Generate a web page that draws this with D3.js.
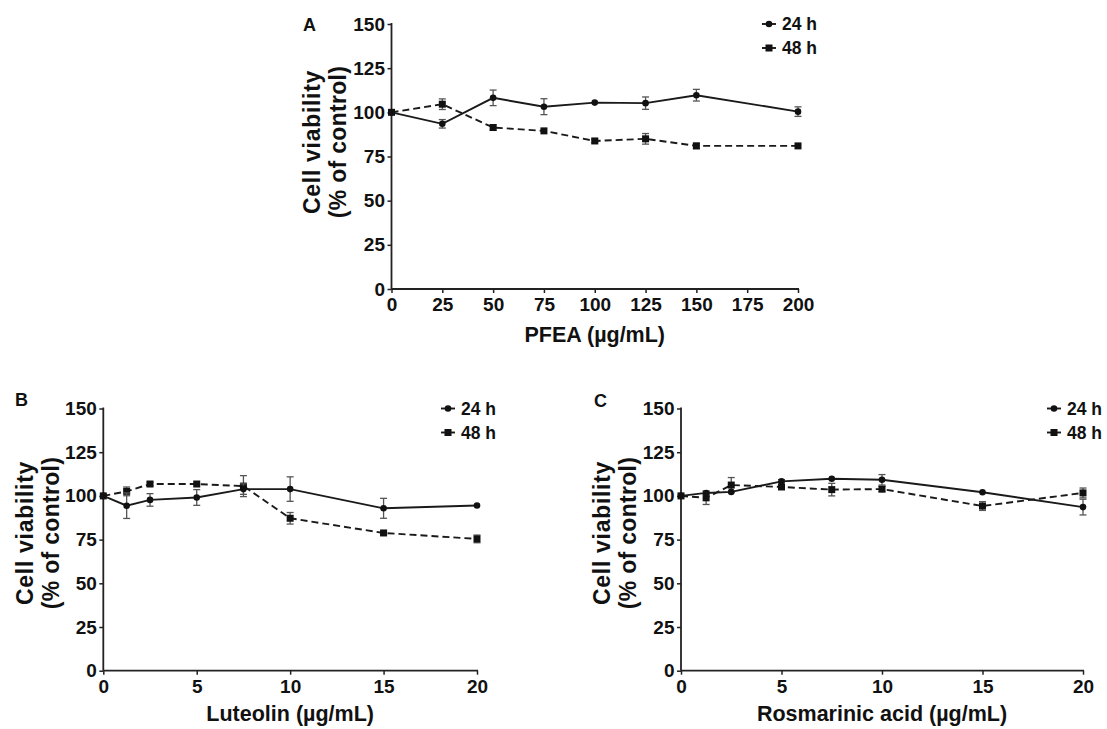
<!DOCTYPE html>
<html>
<head>
<meta charset="utf-8">
<script src="https://cdn.jsdelivr.net/npm/d3@7"></script>
<style>
  body { margin: 0; background: #fff; }
  svg text { font-family: "Liberation Sans", Arial, sans-serif; font-weight: bold; fill: #111; }
</style>
</head>
<body>
<svg id="fig" width="1107" height="729"></svg>
<script>
// ---- data ----
var pfeaDose = [0, 25, 50, 75, 100, 125, 150, 200];
var pfea24 = [100, 93.5, 108.2, 103.2, 105.5, 105.2, 109.7, 100.4];
var pfea24Err = [0.5, 2.4, 4.4, 4.5, 0.5, 3.5, 3.3, 2.7];
var pfea48 = [100, 104.6, 91.4, 89.5, 83.8, 85, 81, 81];
var pfea48Err = [0.5, 3, 1.5, 0.5, 1, 3, 1.5, 0.5];

var lutDose = [0, 1.25, 2.5, 5, 7.5, 10, 15, 20];
var lut24 = [100, 94.4, 97.7, 99.1, 103.9, 103.9, 92.9, 94.5];
var lut24Err = [0.5, 7.3, 3.6, 4.5, 3, 7, 5.7, 0.5];
var lut48 = [100, 102.6, 106.8, 106.8, 105.6, 87.2, 78.8, 75.4];
var lut48Err = [0.5, 2.5, 1, 0.5, 6, 3.3, 1, 2.2];

var rosDose = [0, 1.25, 2.5, 5, 7.5, 10, 15, 20];
var ros24 = [100, 101.7, 102.3, 108.3, 109.8, 109.2, 102.1, 93.6];
var ros24Err = [0.5, 1, 0.5, 1, 0.5, 3, 0.5, 4.5];
var ros48 = [100, 98.9, 106.2, 105.1, 103.6, 103.9, 94.2, 101.7];
var ros48Err = [0.5, 3.8, 4.3, 1, 3.6, 1.5, 2.5, 2.8];

var yTicks = [0, 25, 50, 75, 100, 125, 150];
var pfeaTicks = [0, 25, 50, 75, 100, 125, 150, 175, 200];
var smallTicks = [0, 5, 10, 15, 20];
var seriesNames = ["24 h", "48 h"];

var svg = d3.select("#fig");

function panel(opt) {
  var g = svg.append("g");
  var x = d3.scaleLinear().domain([0, opt.xmax]).range([opt.left, opt.right]);
  var y = d3.scaleLinear().domain([0, 150]).range([opt.bottom, opt.top]);

  var yAxis = g.append("g").attr("transform", "translate(" + opt.left + ",0)")
    .call(d3.axisLeft(y).tickValues(yTicks).tickSize(4).tickPadding(2.5));
  var xAxis = g.append("g").attr("transform", "translate(0," + opt.bottom + ")")
    .call(d3.axisBottom(x).tickValues(opt.ticks).tickSize(4).tickPadding(5));
  [yAxis, xAxis].forEach(function(a) {
    a.attr("font-size", null).attr("font-family", null);
    a.select(".domain").attr("stroke", "#222").attr("stroke-width", 1.8);
    a.selectAll(".tick line").attr("stroke", "#222").attr("stroke-width", 1.5);
    a.selectAll("text").attr("fill", "#111").style("font-size", "19px")
      .style("font-family", "Liberation Sans, Arial, sans-serif").style("font-weight", "bold");
  });
  yAxis.selectAll(".domain").attr("d", "M0," + (opt.bottom) + "V" + (opt.top - 1));
  xAxis.selectAll(".domain").attr("d", "M" + opt.left + ",0H" + (opt.right + 1));

  // axis titles
  var cy = opt.ytitleY;
  g.append("text").attr("transform", "translate(" + opt.yt1 + "," + cy + ") rotate(-90)")
    .attr("text-anchor", "middle").style("font-size", "23px").attr("letter-spacing", 0.7).text("Cell viability");
  g.append("text").attr("transform", "translate(" + opt.yt2 + "," + cy + ") rotate(-90)")
    .attr("text-anchor", "middle").style("font-size", "23px").attr("letter-spacing", 0.3).text("(% of control)");
  g.append("text").attr("x", (opt.left + opt.right) / 2).attr("y", opt.xtitleY)
    .attr("text-anchor", "middle").style("font-size", "21.5px").text(opt.xtitle);
  g.append("text").attr("x", opt.labelX).attr("y", opt.labelY)
    .style("font-size", "18px").text(opt.label);

  var sets = [
    { vals: opt.s24, err: opt.e24, dash: null, shape: "circle" },
    { vals: opt.s48, err: opt.e48, dash: "7,4", shape: "square" }
  ];

  var line = d3.line().x(function(d) { return x(d[0]); }).y(function(d) { return y(d[1]); });

  sets.slice().reverse().forEach(function(s) {
    var pts = opt.dose.map(function(d, i) { return [d, s.vals[i], s.err[i]]; });
    // error bars
    var eb = g.append("g").attr("stroke", "#555").attr("stroke-width", 1.3);
    pts.forEach(function(p) {
      if (p[2] < 1) return;
      var cx = x(p[0]), y1 = y(p[1] + p[2]), y2 = y(p[1] - p[2]);
      eb.append("line").attr("x1", cx).attr("x2", cx).attr("y1", y1).attr("y2", y2);
      eb.append("line").attr("x1", cx - 3.5).attr("x2", cx + 3.5).attr("y1", y1).attr("y2", y1);
      eb.append("line").attr("x1", cx - 3.5).attr("x2", cx + 3.5).attr("y1", y2).attr("y2", y2);
    });
    g.append("path").datum(pts).attr("d", line).attr("fill", "none")
      .attr("stroke", "#1a1a1a").attr("stroke-width", 1.9)
      .attr("stroke-dasharray", s.dash);
    if (s.shape === "circle") {
      g.selectAll(null).data(pts).enter().append("circle")
        .attr("cx", function(d) { return x(d[0]); }).attr("cy", function(d) { return y(d[1]); })
        .attr("r", 3.3).attr("fill", "#111");
    } else {
      g.selectAll(null).data(pts).enter().append("rect")
        .attr("x", function(d) { return x(d[0]) - 3.5; }).attr("y", function(d) { return y(d[1]) - 3.5; })
        .attr("width", 7).attr("height", 7).attr("fill", "#111");
    }
  });

  // legend
  seriesNames.forEach(function(name, i) {
    var ly = opt.top + i * 24;
    var mx = opt.right - 29;
    g.append("line").attr("x1", mx - 7).attr("x2", mx + 7).attr("y1", ly).attr("y2", ly)
      .attr("stroke", "#1a1a1a").attr("stroke-width", 1.9);
    if (i === 0) g.append("circle").attr("cx", mx).attr("cy", ly).attr("r", 3.3).attr("fill", "#111");
    else g.append("rect").attr("x", mx - 3.5).attr("y", ly - 3.5).attr("width", 7).attr("height", 7).attr("fill", "#111");
    g.append("text").attr("x", opt.right - 16).attr("y", ly).attr("dy", "0.35em")
      .style("font-size", "17.5px").text(name);
  });
}

panel({ left: 391.5, right: 798, top: 24, bottom: 289, xmax: 200, ticks: pfeaTicks,
  dose: pfeaDose, s24: pfea24, e24: pfea24Err, s48: pfea48, e48: pfea48Err,
  xtitle: "PFEA (\u00b5g/mL)", xtitleY: 342, yt1: 320, yt2: 346, ytitleY: 142,
  label: "A", labelX: 303, labelY: 30.5 });

panel({ left: 103.3, right: 477, top: 408.5, bottom: 670.7, xmax: 20, ticks: smallTicks,
  dose: lutDose, s24: lut24, e24: lut24Err, s48: lut48, e48: lut48Err,
  xtitle: "Luteolin (\u00b5g/mL)", xtitleY: 721, yt1: 33, yt2: 59, ytitleY: 533,
  label: "B", labelX: 15, labelY: 406 });

panel({ left: 681, right: 1083, top: 408.5, bottom: 670.7, xmax: 20, ticks: smallTicks,
  dose: rosDose, s24: ros24, e24: ros24Err, s48: ros48, e48: ros48Err,
  xtitle: "Rosmarinic acid (\u00b5g/mL)", xtitleY: 721, yt1: 610, yt2: 636, ytitleY: 533,
  label: "C", labelX: 594, labelY: 407 });
</script>
</body>
</html>
